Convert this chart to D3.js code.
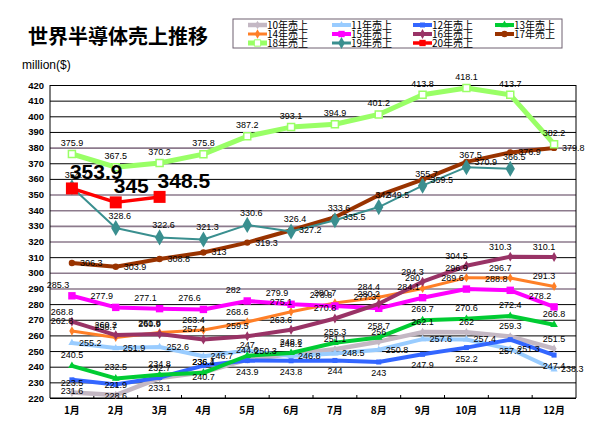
<!DOCTYPE html>
<html><head><meta charset="utf-8">
<script src="https://cdn.jsdelivr.net/npm/d3@7/dist/d3.min.js"></script>
<style>body{margin:0;background:#fff}svg{display:block}</style>
</head><body>
<svg id="c" width="600" height="430"></svg>
<script>
const months = ["1月","2月","3月","4月","5月","6月","7月","8月","9月","10月","11月","12月"];
const seriesNames = ["10年売上","11年売上","12年売上","13年売上","14年売上","15年売上","16年売上","17年売上","18年売上","19年売上","20年売上"];
const yTicks = [220,230,240,250,260,270,280,290,300,310,320,330,340,350,360,370,380,390,400,410,420];
const greyGrid = [380,350,340,330,320,300,290];

const s10 = [223.5, 221.9, 232.7, 236.4, 244.6, 248.1, 251.1, 256, 262.1, 262, 259.3, 251.5];
const s11 = [255.2, 251.9, 252.6, 246.7, 250.3, 246.8, 248.5, 250.8, 257.6, 257.4, 251.3, 238.3];
const s12 = [231.6, 228.6, 233.1, 240.7, 243.9, 243.8, 244, 243, 247.9, 252.2, 257.3, 247.4];
const s13 = [240.5, 232.5, 234.8, 236.1, 247, 248.8, 255.3, 258.7, 269.7, 270.6, 272.4, 266.8];
const s14 = [262.8, 258.7, 261.8, 263.4, 268.6, 275.1, 280.7, 284.4, 290, 296.9, 296.7, 291.3];
const s15 = [285.3, 277.9, 277.1, 276.6, 282, 279.9, 278.8, 277.3, 284.1, 289.6, 288.8, 278.2];
const s16 = [268.8, 260.2, 260.9, 257.4, 259.5, 263.6, 270.8, 280.2, 294.3, 304.5, 310.3, 310.1];
const s17 = [306.3, 303.9, 308.8, 313.0, 319.3, 327.2, 335.5, 349.5, 359.5, 370.9, 376.9, 379.8];
const s18 = [375.9, 367.5, 370.2, 375.8, 387.2, 393.1, 394.9, 401.2, 413.8, 418.1, 413.7, 382.2];
const s19 = [354.7, 328.6, 322.6, 321.3, 330.6, 326.4, 333.6, 342, 355.7, 367.5, 366.5];
const s20 = [353.9, 345, 348.5];

const allSeries = [s10,s11,s12,s13,s14,s15,s16,s17,s18,s19,s20];

const styles = [
 {c:"#c4b8c4", w:4.5, m:d3.symbolDiamond, ms:22, la:"middle", dx:0, dy:-7},
 {c:"#99ccff", w:4, m:d3.symbolTriangle, ms:22, la:"start", dx:7, dy:3},
 {c:"#3366ff", w:4, m:d3.symbolSquare, ms:25, la:"middle", dx:0, dy:14},
 {c:"#00cc33", w:4, m:d3.symbolTriangle, ms:25, la:"middle", dx:0, dy:-8},
 {c:"#ff7f27", w:3, m:d3.symbolDiamond, ms:25, la:"middle", dx:-10, dy:-7},
 {c:"#ff00ff", w:4, m:d3.symbolSquare, ms:55, la:"middle", dx:-14, dy:-8},
 {c:"#993366", w:4, m:d3.symbolDiamond, ms:28, la:"middle", dx:-10, dy:-7},
 {c:"#993300", w:4, m:d3.symbolCircle, ms:32, la:"start", dx:8, dy:3},
 {c:"#99ff66", w:5, m:d3.symbolSquare, ms:49, hollow:true, la:"middle", dx:0, dy:-8},
 {c:"#3a8f8f", w:2, m:d3.symbolDiamond, ms:75, la:"middle", dx:4, dy:-9},
 {c:"#ff0000", w:3.5, m:d3.symbolSquare, ms:144, big:true, la:"start", dx:-2, dy:-9}
];

const svg = d3.select("#c");
const L = 50, R = 576, T = 85, B = 398;
const x = d3.scaleBand().domain(months).range([L, R]);
const cx = m => x(m) + x.bandwidth()/2;
const y = d3.scaleLinear().domain([220, 420]).range([B, T]);
const FONT = "'Liberation Sans', Arial, sans-serif";
const CJK = "'Noto Sans CJK JP', 'Noto Sans', sans-serif";

// title
svg.append("text").attr("x", 28).attr("y", 44).attr("font-family", CJK).attr("font-weight", "bold")
  .attr("font-size", 20).text("世界半導体売上推移");
svg.append("text").attr("x", 22).attr("y", 69).attr("font-family", FONT)
  .attr("font-size", 12).text("million($)");

// grid
const gridAxis = d3.axisLeft(y).tickValues(yTicks).tickSize(-(R - L)).tickFormat("");
const gg = svg.append("g").attr("transform", `translate(${L},0)`).call(gridAxis);
gg.select(".domain").remove();
gg.selectAll(".tick line")
  .attr("stroke", d => greyGrid.includes(d) ? "#8c7a8c" : "#000")
  .attr("stroke-width", d => greyGrid.includes(d) ? 1.6 : 1);

// y tick labels
const ya = svg.append("g").attr("transform", `translate(${L},0)`)
  .call(d3.axisLeft(y).tickValues(yTicks).tickSize(0).tickPadding(6));
ya.select(".domain").remove();
ya.selectAll("text").attr("font-family", FONT).attr("font-size", 9.5).attr("font-weight", "bold").attr("fill", "#000");

// x axis
const xa = svg.append("g").attr("transform", `translate(0,${B})`)
  .call(d3.axisBottom(x).tickSize(0).tickPadding(9));
xa.select(".domain").remove();
xa.selectAll("text").attr("font-family", CJK).attr("font-size", 10).attr("font-weight", "bold").attr("fill", "#000");
svg.append("g").selectAll("line").data(months.slice(1)).join("line")
  .attr("x1", d => x(d)).attr("x2", d => x(d)).attr("y1", B).attr("y2", B - 3)
  .attr("stroke", "#000");

// plot frame
svg.append("line").attr("x1", L).attr("x2", L).attr("y1", T).attr("y2", B).attr("stroke", "#000");
svg.append("line").attr("x1", R).attr("x2", R).attr("y1", T).attr("y2", B).attr("stroke", "#000");
svg.append("line").attr("x1", L).attr("x2", R).attr("y1", B).attr("y2", B).attr("stroke", "#000");

// lines + markers
const line = d3.line().x((d, i) => cx(months[i])).y(d => y(d));
allSeries.forEach((s, k) => {
  const st = styles[k];
  svg.append("path").datum(s).attr("d", line).attr("fill", "none")
    .attr("stroke", st.c).attr("stroke-width", st.w).attr("stroke-linejoin", "round");
  svg.append("g").selectAll("path").data(s).join("path")
    .attr("transform", (d, i) => `translate(${cx(months[i])},${y(d)})`)
    .attr("d", d3.symbol().type(st.m).size(st.ms))
    .attr("fill", st.hollow ? "#fff" : st.c)
    .attr("stroke", st.hollow ? st.c : "none").attr("stroke-width", 1.5);
});

// data labels
allSeries.forEach((s, k) => {
  const st = styles[k];
  svg.append("g").selectAll("text").data(s).join("text")
    .attr("x", (d, i) => cx(months[i]) + st.dx)
    .attr("y", d => y(d) + st.dy)
    .attr("text-anchor", st.la)
    .attr("font-family", FONT)
    .attr("font-size", st.big ? 21 : 9)
    .attr("font-weight", st.big ? "bold" : "normal")
    .attr("fill", "#000")
    .text(d => String(d));
});

// legend
svg.append("rect").attr("x", 233).attr("y", 19).attr("width", 329).attr("height", 29)
  .attr("fill", "#fff").attr("stroke", "#6f6070").attr("stroke-width", 1);
const colX = [248, 332, 413, 495], rowY = [25, 34, 43];
seriesNames.forEach((name, k) => {
  const st = styles[k];
  const lx = colX[k % 4], ly = rowY[Math.floor(k / 4)];
  const g = svg.append("g");
  g.append("line").attr("x1", lx).attr("x2", lx + 19).attr("y1", ly).attr("y2", ly)
    .attr("stroke", st.c).attr("stroke-width", Math.max(st.w, 3));
  g.append("path").attr("transform", `translate(${lx + 9.5},${ly})`)
    .attr("d", d3.symbol().type(st.m).size(Math.min(st.ms, 40)))
    .attr("fill", st.hollow ? "#fff" : st.c).attr("stroke", st.hollow ? st.c : "none");
  g.append("text").attr("x", lx + 19).attr("y", ly + 3.5).attr("font-family", CJK)
    .attr("font-size", 10).attr("fill", "#000").text(name);
});
</script>
</body></html>
